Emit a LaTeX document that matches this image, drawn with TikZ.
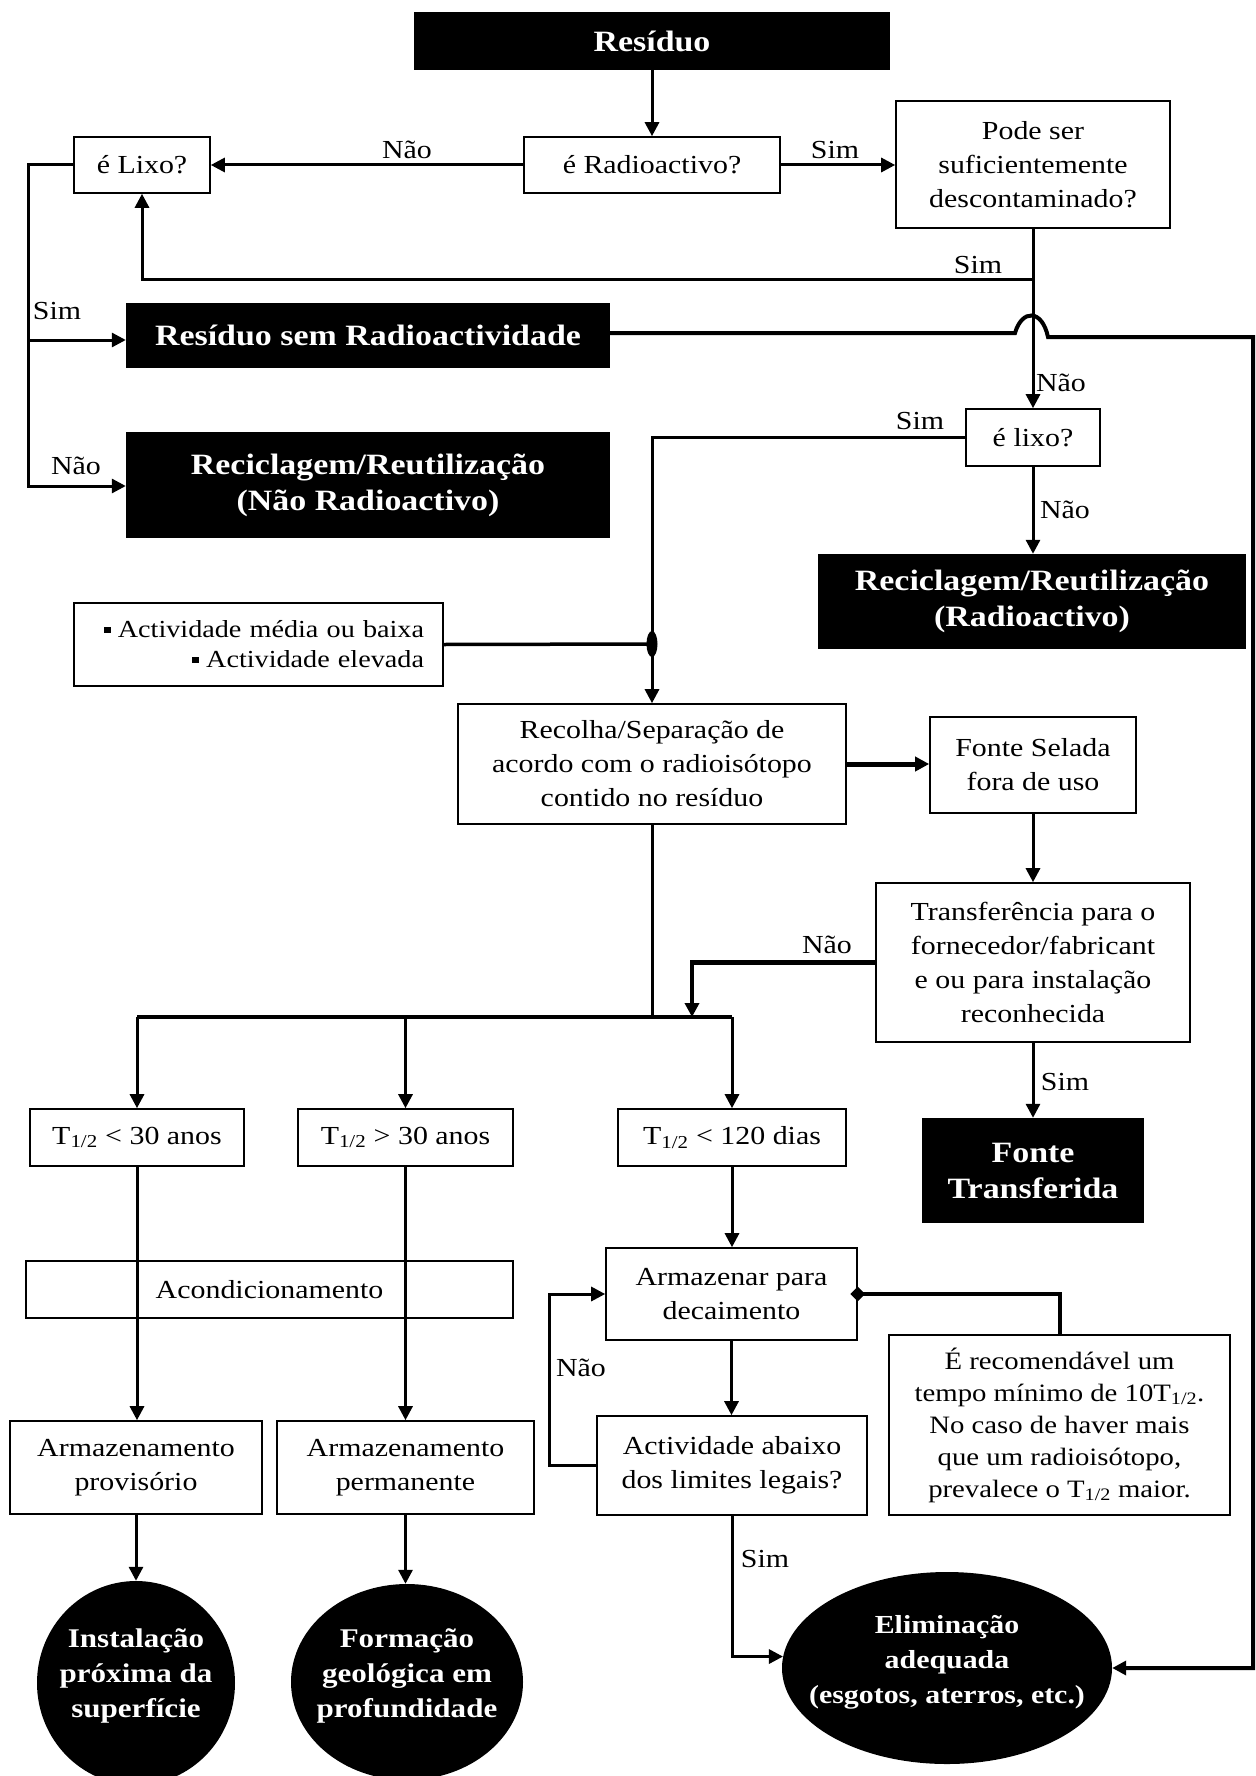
\documentclass[tikz,border=0pt]{standalone}
\usepackage{fontspec}
\setmainfont{Liberation Serif}[FakeStretch=1.15]
\usetikzlibrary{arrows.meta,shapes.geometric}
\newcommand\fReg{\fontsize{26}{34}\selectfont}
\newcommand\fNote{\fontsize{25}{32}\selectfont}
\newcommand\fAct{\fontsize{24.5}{30}\selectfont}
\newcommand\fBld{\fontsize{29.5}{36}\selectfont\bfseries}
\newcommand\fOval{\fontsize{27}{35}\selectfont\bfseries}
\newcommand\fElim{\fontsize{26}{35}\selectfont\bfseries}
\newcommand\half{\textsubscript{1/2}}
\newcommand\bul{\rule[0.2em]{0.26em}{0.26em}\hspace{0.3em}}
\begin{document}
\begin{tikzpicture}[x=1pt,y=-1pt,
  box/.style={draw,line width=1.6pt,fill=white,inner sep=0pt,align=center,font=\fReg},
  blk/.style={fill=black,text=white,inner sep=0pt,align=center,font=\fBld},
  oval/.style={ellipse,fill=black,inner sep=0pt},
  wtxt/.style={text=white,inner sep=0pt,align=center,font=\fOval},
  lbl/.style={inner sep=0pt,font=\fReg},
  ln/.style={line width=3pt},
  arr/.style={-{Triangle[length=14pt,width=14pt]}},
]
\useasboundingbox (0,0) rectangle (1255,1776);
\clip (0,0) rectangle (1255,1776);
\fill[white] (0,0) rectangle (1255,1776);

% ---- nodes
\node[blk,minimum width=476pt,minimum height=58pt] (res) at (652,41) {Resíduo};
\node[box,minimum width=256pt,minimum height=56pt] (rad) at (652,165) {é Radioactivo?};
\node[box,minimum width=136pt,minimum height=56pt] (lixo1) at (142,165) {é Lixo?};
\node[box,minimum width=274pt,minimum height=127pt] (pode) at (1033,164.5) {Pode ser\\suficientemente\\descontaminado?};
\node[blk,minimum width=484pt,minimum height=65pt] (semrad) at (368,335.5) {Resíduo sem Radioactividade};
\node[blk,minimum width=484pt,minimum height=106pt] (recnr) at (368,485) {Reciclagem/Reutilização\\(Não Radioactivo)};
\node[box,minimum width=134pt,minimum height=57pt] (lixo2) at (1033,437.5) {é lixo?};
\node[blk,minimum width=428pt,minimum height=95pt] (recr) at (1032,601.5) {Reciclagem/Reutilização\\(Radioactivo)};
\node[box,minimum width=369pt,minimum height=83pt,text width=331pt,inner xsep=19pt,align=right,font=\fAct] (activ) at (258.5,644.5) {\bul Actividade média ou baixa\\\bul Actividade elevada};
\node[box,minimum width=388pt,minimum height=120pt] (recolha) at (652,764) {Recolha/Separação de\\acordo com o radioisótopo\\contido no resíduo};
\node[box,minimum width=206pt,minimum height=96pt] (fonte) at (1033,765) {Fonte Selada\\fora de uso};
\node[box,minimum width=314pt,minimum height=159pt] (transf) at (1033,962.5) {Transferência para o\\fornecedor/fabricant\\e ou para instalação\\reconhecida};
\node[box,minimum width=214pt,minimum height=57pt] (t30a) at (137,1137.5) {T\half{} < 30 anos};
\node[box,minimum width=215pt,minimum height=57pt] (t30b) at (405.5,1137.5) {T\half{} > 30 anos};
\node[box,minimum width=228pt,minimum height=57pt] (t120) at (732,1137.5) {T\half{} < 120 dias};
\node[blk,minimum width=222pt,minimum height=105pt] (fontet) at (1033,1170.5) {Fonte\\Transferida};
\node[box,minimum width=487pt,minimum height=57pt] (acond) at (269.5,1289.5) {Acondicionamento};
\node[box,minimum width=251pt,minimum height=92pt] (armz) at (731.5,1294) {Armazenar para\\decaimento};
\node[box,minimum width=270pt,minimum height=99pt] (activab) at (732,1465.5) {Actividade abaixo\\dos limites legais?};
\node[box,minimum width=341pt,minimum height=180pt,font=\fNote] (nota) at (1059.5,1425) {É recomendável um\\tempo mínimo de 10T\half.\\No caso de haver mais\\que um radioisótopo,\\prevalece o T\half{} maior.};
\node[box,minimum width=252pt,minimum height=93pt] (armprov) at (136,1467.5) {Armazenamento\\provisório};
\node[box,minimum width=257pt,minimum height=93pt] (armperm) at (405.5,1467.5) {Armazenamento\\permanente};
\node[oval,minimum width=198pt,minimum height=204pt] (inst) at (136,1683) {};
\node[wtxt] (instt) at (136,1676) {Instalação\\próxima da\\superfície};
\node[oval,minimum width=232pt,minimum height=196pt] (form) at (407,1682) {};
\node[wtxt] (formt) at (407,1676) {Formação\\geológica em\\profundidade};
\node[oval,minimum width=330pt,minimum height=192pt] (elim) at (947,1668) {};
\node[wtxt,font=\fElim] (elimt) at (947,1662) {Eliminação\\adequada\\(esgotos, aterros, etc.)};

% ---- labels
\node[lbl] (l1) at (407,150) {Não};
\node[lbl] (l2) at (835,150) {Sim};
\node[lbl] (l3) at (978,265) {Sim};
\node[lbl] (l4) at (57,311) {Sim};
\node[lbl] (l5) at (1061,383) {Não};
\node[lbl] (l6) at (920,421) {Sim};
\node[lbl] (l7) at (76,466) {Não};
\node[lbl] (l8) at (1065,510) {Não};
\node[lbl] (l9) at (827,945) {Não};
\node[lbl] (l10) at (1065,1082) {Sim};
\node[lbl] (l11) at (581,1368) {Não};
\node[lbl] (l12) at (765,1559) {Sim};

% ---- coordinates
\coordinate (jA) at (1033,280);
\coordinate (jL) at (28,165);
\coordinate (jSim) at (28,340);
\coordinate (jNao) at (28,486);
\coordinate (h1) at (1015,333);
\coordinate (h2) at (1048,337);
\coordinate (rE) at (1253,337);
\coordinate (rB) at (1253,1668);
\coordinate (bL) at (137,1017);
\coordinate (bR) at (732,1017);
\coordinate (bM) at (652,1017);
\coordinate (bN) at (692,1017);
\coordinate (lpB) at (549,1465.5);

% ---- connectors
\draw[ln,arr] (res) -- (rad);
\draw[ln,arr] (rad) -- (lixo1);
\draw[ln,arr] (rad.east) -- (pode.west |- rad.east);
\draw[ln,arr] (pode.south) -- (lixo2.north);
\draw[ln,arr] (jA) -| (lixo1.south);
\draw[ln,arr] (lixo1.west) -- (jL) -- (jNao) -- (recnr.west |- jNao);
\draw[ln,arr] (jSim) -- (semrad.west |- jSim);
\draw[line width=4pt,arr] (semrad.east |- h1) -- (h1) .. controls (1022,309) and (1042,309) .. (h2) -- (rE) -- (rB) -- (elim.east);
\draw[ln,arr] (lixo2.west) -| (recolha.north);
\node[ellipse,fill=black,minimum width=11pt,minimum height=26pt,inner sep=0pt] (jm) at (652,644) {};
\draw[line width=3.5pt] (activ.east) -- (jm.center);
\draw[ln,arr] (lixo2.south) -- (lixo2.south |- recr.north);
\draw[line width=5pt,arr] (recolha.east) -- (fonte.west |- recolha.east);
\draw[ln,arr] (fonte) -- (transf);
\draw[line width=4.5pt,arr] (transf.west) -| (bN);
\draw[ln] (recolha.south) -- (bM);
\draw[line width=4.5pt] (bL) -- (bR);
\draw[ln,arr] (bL) -- (t30a.north);
\draw[ln,arr] (t30b.north |- bL) -- (t30b.north);
\draw[ln,arr] (bR) -- (t120.north);
\draw[ln,arr] (transf) -- (fontet);
\draw[ln,arr] (t30a.south) -- (t30a.south |- armprov.north);
\draw[ln,arr] (t30b.south) -- (t30b.south |- armperm.north);
\draw[ln,arr] (t120.south) -- (t120.south |- armz.north);
\draw[ln,arr] (armprov) -- (inst);
\draw[ln,arr] (armperm.south) -- (armperm.south |- form.north);
\draw[ln,arr] (armz.south) -- (armz.south |- activab.north);
\draw[ln,arr] (activab.west) -- (lpB) |- (armz.west);
\draw[line width=4pt] (nota.north) |- (armz.east);
\node[diamond,fill=black,minimum size=15pt,inner sep=0pt] (dmd) at (armz.east) {};
\draw[ln,arr] (activab.south) |- (elim.176);
\end{tikzpicture}
\end{document}
